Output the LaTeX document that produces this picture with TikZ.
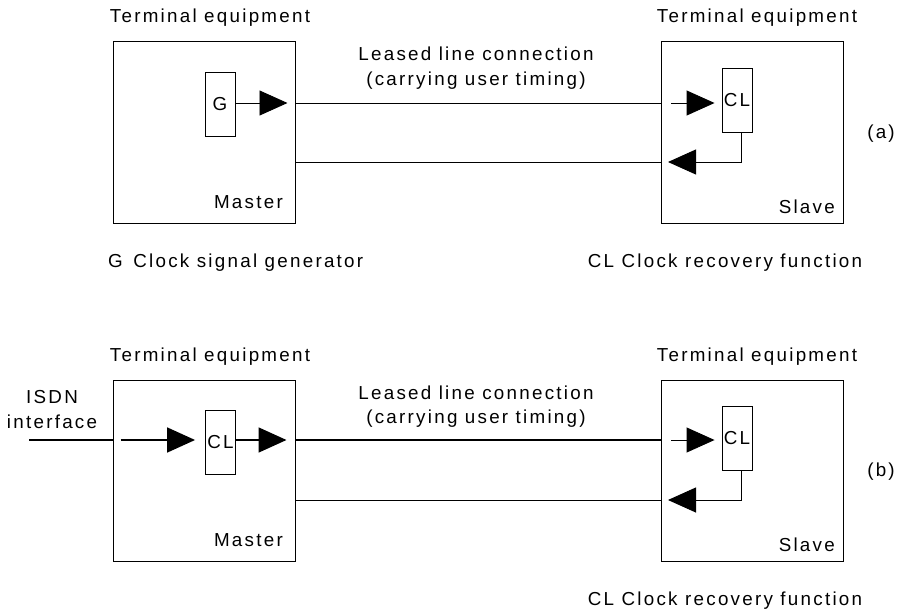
\documentclass[tikz,border=0pt]{standalone}
\usepackage{fontspec}
\setmainfont{Liberation Sans}[LetterSpace=12]
\usetikzlibrary{arrows.meta,calc}
\begin{document}
\begin{tikzpicture}[x=1pt,y=-1pt,
  lbl/.style={font=\fontsize{18.8}{22}\selectfont, inner sep=0pt, anchor=base},
  term/.style={draw, line width=1pt, minimum width=182pt, minimum height=181pt, inner sep=0pt},
  func/.style={draw, line width=0.9pt, minimum width=30pt, minimum height=64pt, inner sep=0pt,
    font=\fontsize{18.8}{22}\selectfont},
  wire/.style={line width=0.9pt},
  bold/.style={line width=1.7pt},
  arr/.style={-{Triangle[length=28pt,width=25pt]}}]
\useasboundingbox (0,0) rectangle (897,610);

% ---------------- (a) ----------------
\node[term] (ma) at (204,132.5) {};
\node[term] (sa) at (752.5,132.5) {};
\node[func] (g) at (220,104) {G};
\node[func] (cla) at (737,100) {CL};
\coordinate (ta) at (0,103);
\coordinate (ra) at (0,162);
\coordinate (da) at (741,0);

\node[lbl] (tma) at (210,23) {Terminal equipment};
\node[lbl] (tsa) at (757,23) {Terminal equipment};
\node[lbl] (la1) at (476,61) {Leased line connection};
\node[lbl] (la2) at (476,85) {(carrying user timing)};
\node[lbl, anchor=base east] (mla) at (283,208) {Master};
\node[lbl, anchor=base east] (sla) at (835,213) {Slave};
\node[lbl] (pa) at (881,138) {(a)};
\node[lbl, anchor=base west] (gk) at (108,267) {G\hspace{3pt} Clock signal generator};
\node[lbl] (cka) at (725,267) {CL Clock recovery function};

\draw[wire, arr, shorten >=8pt] (g.east |- ta) -- (ma.east |- ta);
\draw[wire] (ma.east |- ta) -- (sa.west |- ta);
\draw[wire] (ma.east |- ra) -- (sa.west |- ra);
\draw[wire, arr, shorten <=10pt, shorten >=7pt] (sa.west |- ta) -- (cla.west |- ta);
\draw[wire, arr, shorten >=7pt] (da |- cla.south) -- (da |- ra) -- (sa.west |- ra);

% ---------------- (b) ----------------
\node[term] (mb) at (204,470.5) {};
\node[term] (sb) at (752.5,470.5) {};
\node[func] (clm) at (220.5,442) {CL};
\node[func] (clb) at (737,438) {CL};
\coordinate (tb) at (0,440);
\coordinate (rb) at (0,500);
\coordinate (db) at (741,0);
\coordinate (isdn) at (29,440);

\node[lbl] (tmb) at (210,361) {Terminal equipment};
\node[lbl] (tsb) at (757,361) {Terminal equipment};
\node[lbl] (lb1) at (476,399) {Leased line connection};
\node[lbl] (lb2) at (476,423) {(carrying user timing)};
\node[lbl] (is1) at (52,403) {ISDN};
\node[lbl] (is2) at (52,428) {interface};
\node[lbl, anchor=base east] (mlb) at (283,546) {Master};
\node[lbl, anchor=base east] (slb) at (835,551) {Slave};
\node[lbl] (pb) at (881,476) {(b)};
\node[lbl] (ckb) at (725,605) {CL Clock recovery function};

\draw[bold] (isdn) -- (mb.west |- tb);
\draw[bold, arr, shorten <=8pt, shorten >=10pt] (mb.west |- tb) -- (clm.west |- tb);
\draw[bold, arr, shorten >=9pt] (clm.east |- tb) -- (mb.east |- tb);
\draw[bold] (mb.east |- tb) -- (sb.west |- tb);
\draw[wire] (mb.east |- rb) -- (sb.west |- rb);
\draw[wire, arr, shorten <=10pt, shorten >=7pt] (sb.west |- tb) -- (clb.west |- tb);
\draw[wire, arr, shorten >=7pt] (db |- clb.south) -- (db |- rb) -- (sb.west |- rb);
\end{tikzpicture}
\end{document}
